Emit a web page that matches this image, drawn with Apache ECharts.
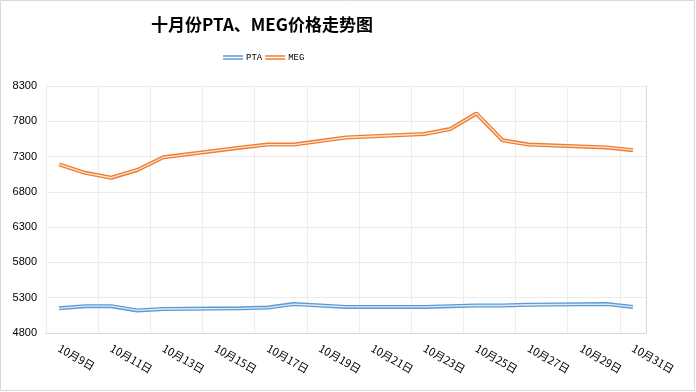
<!DOCTYPE html>
<html>
<head>
<meta charset="utf-8">
<script src="https://cdn.jsdelivr.net/npm/echarts@6/dist/echarts.min.js"></script>
<style>html,body{margin:0;padding:0;background:#fff}#c{width:696px;height:392px}</style>
</head>
<body>
<div id="c"></div>
<script>
var categories = ['10月9日','10月10日','10月11日','10月12日','10月13日','10月14日','10月15日','10月16日','10月17日','10月18日','10月19日','10月20日','10月21日','10月22日','10月23日','10月24日','10月25日','10月26日','10月27日','10月28日','10月29日','10月30日','10月31日'];
var ptaValues = [5150,5180,5180,5120,5140,null,null,5150,5160,5210,5190,5170,null,null,5170,5180,5190,5190,5200,null,null,5210,5170];
var megValues = [7190,7070,7000,7110,7290,null,null,7430,7470,7470,7520,7570,null,null,7620,7690,7910,7530,7470,null,null,7430,7390];
var seriesNames = ['PTA','MEG'];
var seriesColors = ['#5B9BD5','#ED7D31'];
var yMin = 4800, yMax = 8300, yStep = 500;

var chart = echarts.init(document.getElementById('c'));
var dblIcon = 'path://M0,0H40V3H0Z M0,6H40V9H0Z';
function mk(name, data, color) {
  return [
    {name:name, type:'line', data:data, connectNulls:true, symbol:'none', z:2,
     lineStyle:{color:color, width:4}, itemStyle:{color:color}},
    {name:name, type:'line', data:data, connectNulls:true, symbol:'none', z:3, silent:true,
     lineStyle:{color:'rgba(255,255,255,0.8)', width:1.3}, itemStyle:{color:color}}
  ];
}
chart.setOption({
  animation:false,
  backgroundColor:'#fff',
  title:{text:'十月份PTA、MEG价格走势图', left:146, top:11,
    textStyle:{fontSize:17, fontWeight:'bold', color:'#000', fontFamily:'Liberation Sans Narrow, Noto Sans CJK SC, sans-serif'}},
  legend:{data:[{name:seriesNames[0], icon:dblIcon},{name:seriesNames[1], icon:dblIcon}],
    left:218, top:48, itemWidth:20, itemHeight:5, itemGap:3,
    textStyle:{fontSize:9, color:'#000', fontFamily:'Liberation Mono, monospace', padding:[0,0,0,-2]}},
  grid:{left:46, right:50, top:86, bottom:59, containLabel:false},
  xAxis:{type:'category', data:categories, boundaryGap:true,
    axisLine:{lineStyle:{color:'#d9d9d9'}},
    axisTick:{interval:1, length:5, lineStyle:{color:'#d9d9d9'}},
    splitLine:{show:true, interval:1, lineStyle:{color:'#ececec'}},
    axisLabel:{interval:1, rotate:-30, margin:14, fontSize:11, color:'#000', fontFamily:'Noto Sans CJK SC, sans-serif'}},
  yAxis:[{type:'value', min:yMin, max:yMax, interval:yStep,
    axisLine:{show:true, lineStyle:{color:'#ececec'}}, axisTick:{show:false},
    splitLine:{lineStyle:{color:'#ececec'}},
    axisLabel:{fontSize:11, color:'#000', margin:9, fontFamily:'Liberation Sans, sans-serif', formatter:function(v){return String(v);}}},
    {type:'value', position:'right', min:yMin, max:yMax, interval:yStep,
    axisLine:{show:true, lineStyle:{color:'#d9d9d9'}}, axisTick:{show:false},
    axisLabel:{show:false}, splitLine:{show:false}}],
  graphic:[{type:'rect', shape:{x:0.5, y:0.5, width:694, height:390}, style:{fill:null, stroke:'#d9d9d9', lineWidth:1}, silent:true, z:-1}],
  series:[].concat(mk(seriesNames[0], ptaValues, seriesColors[0]), mk(seriesNames[1], megValues, seriesColors[1]))
});
</script>
</body>
</html>
